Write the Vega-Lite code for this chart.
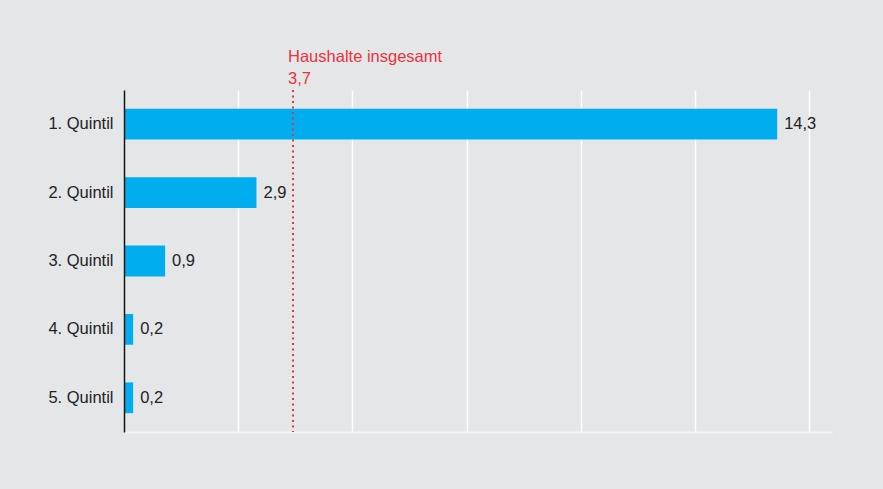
{
  "$schema": "https://vega.github.io/schema/vega-lite/v6.json",
  "width": 708,
  "height": 342,
  "autosize": {"type": "none"},
  "padding": {"left": 124, "top": 90, "right": 51, "bottom": 57},
  "background": "#e5e6e8",
  "config": {"view": {"stroke": null}, "font": "Liberation Sans"},
  "layer": [
    {
      "data": {
        "values": [
          {"gruppe": "1. Quintil", "wert": 14.3, "label": "14,3"},
          {"gruppe": "2. Quintil", "wert": 2.9, "label": "2,9"},
          {"gruppe": "3. Quintil", "wert": 0.9, "label": "0,9"},
          {"gruppe": "4. Quintil", "wert": 0.2, "label": "0,2"},
          {"gruppe": "5. Quintil", "wert": 0.2, "label": "0,2"}
        ]
      },
      "encoding": {
        "y": {
          "field": "gruppe",
          "type": "nominal",
          "sort": null,
          "scale": {"paddingInner": 0.55, "paddingOuter": 0.275},
          "axis": {
            "title": null,
            "ticks": false,
            "domainColor": "#111111",
            "domainWidth": 1.5,
            "labelFontSize": 16.5,
            "labelColor": "#222222",
            "labelPadding": 11,
            "zindex": 1
          }
        },
        "x": {
          "field": "wert",
          "type": "quantitative",
          "scale": {"domain": [0, 15.5], "nice": false},
          "axis": {
            "title": null,
            "labels": false,
            "ticks": false,
            "values": [0, 2.5, 5, 7.5, 10, 12.5, 15],
            "grid": true,
            "gridColor": "#ffffff",
            "gridWidth": 1.5,
            "domainColor": "#f3f4f5",
            "domainWidth": 2
          }
        }
      },
      "layer": [
        {"mark": {"type": "bar", "color": "#00aeef"}},
        {
          "mark": {"type": "text", "align": "left", "baseline": "middle", "dx": 7, "fontSize": 16.5, "color": "#222222"},
          "encoding": {"text": {"field": "label"}}
        }
      ]
    },
    {
      "data": {"values": [{"wert": 3.7, "label": "Haushalte insgesamt\n3,7"}]},
      "layer": [
        {
          "mark": {"type": "rule", "color": "#e8333c", "strokeWidth": 2, "strokeDash": [2, 3.5]},
          "encoding": {"x": {"field": "wert", "type": "quantitative"}}
        },
        {
          "mark": {"type": "text", "align": "left", "baseline": "alphabetic", "dx": -5, "dy": -28, "fontSize": 16.5, "lineHeight": 22, "lineBreak": "\n", "color": "#e8333c"},
          "encoding": {
            "x": {"field": "wert", "type": "quantitative"},
            "y": {"value": 0},
            "text": {"field": "label"}
          }
        }
      ]
    }
  ]
}
